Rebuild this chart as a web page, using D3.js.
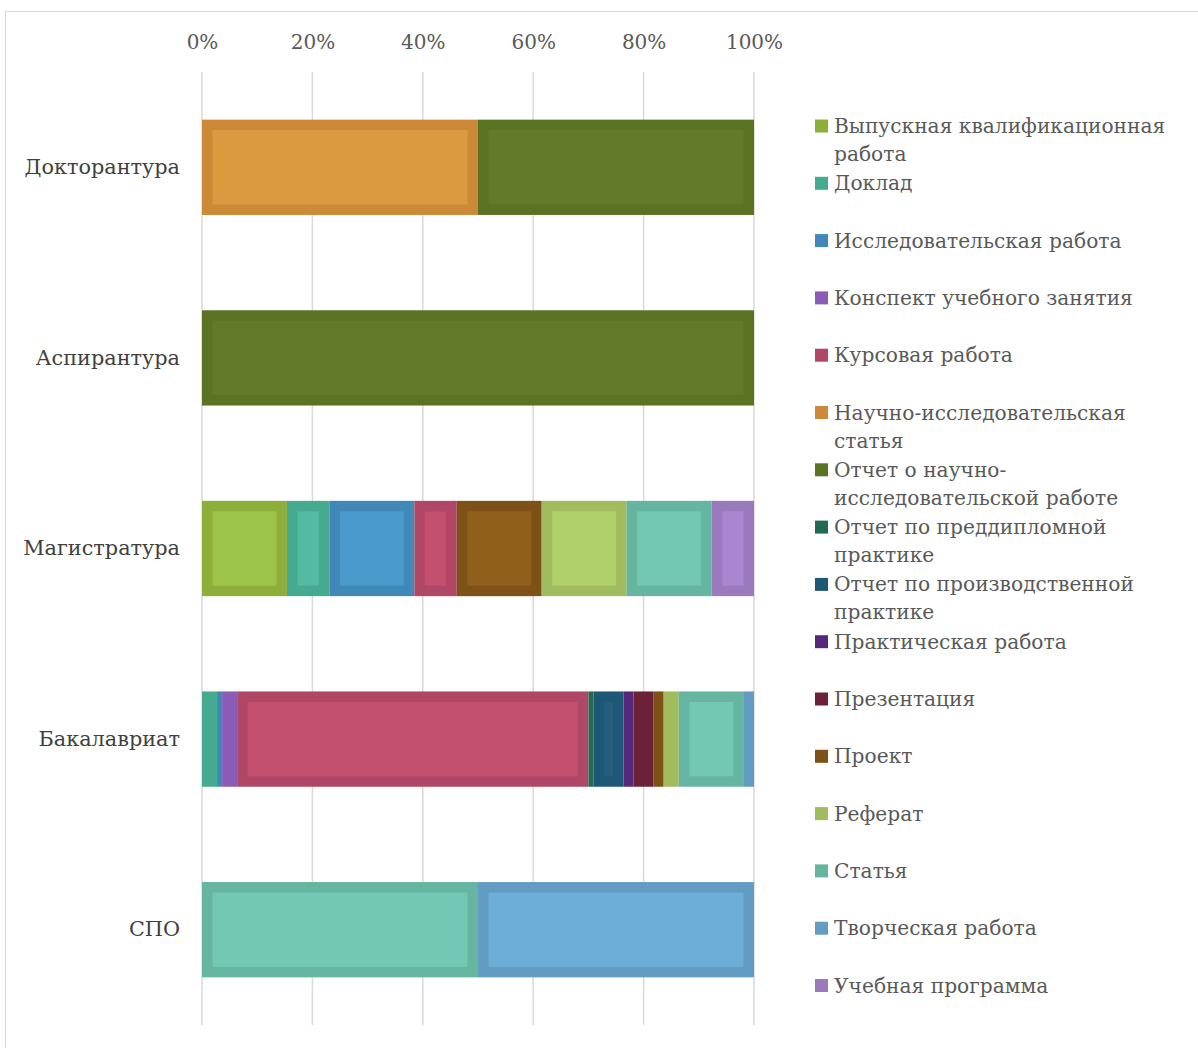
<!DOCTYPE html>
<html><head><meta charset="utf-8">
<script src="https://cdn.jsdelivr.net/npm/d3@7"></script>
<style>body{margin:0;background:#fff}</style>
</head><body><svg id="c" width="1198" height="1048"></svg>
<script>
const categories = ["Докторантура","Аспирантура","Магистратура","Бакалавриат","СПО"];
const seriesNames = [
 "Выпускная квалификационная работа","Доклад","Исследовательская работа","Конспект учебного занятия",
 "Курсовая работа","Научно-исследовательская статья","Отчет о научно-исследовательской работе",
 "Отчет по преддипломной практике","Отчет по производственной практике","Практическая работа",
 "Презентация","Проект","Реферат","Статья","Творческая работа","Учебная программа"];
// values per series, in category order
const vVKR   = [0,0,2,0,0];
const vDokl  = [0,0,1,3,0];
const vIssl  = [0,0,2,1,0];
const vKonsp = [0,0,0,3,0];
const vKurs  = [0,0,1,70,0];
const vNIS   = [1,0,0,0,0];
const vONIR  = [1,1,0,0,0];
const vPredd = [0,0,0,1,0];
const vProiz = [0,0,0,6,0];
const vPrakt = [0,0,0,2,0];
const vPrez  = [0,0,0,4,0];
const vProekt= [0,0,2,2,0];
const vRef   = [0,0,2,3,0];
const vStat  = [0,0,2,13,1];
const vTvor  = [0,0,0,2,1];
const vUch   = [0,0,1,0,0];
const seriesValues = [vVKR,vDokl,vIssl,vKonsp,vKurs,vNIS,vONIR,vPredd,vProiz,vPrakt,vPrez,vProekt,vRef,vStat,vTvor,vUch];
const tickLabels = ["0%","20%","40%","60%","80%","100%"];
const edgeColors = ["#8dae3b","#46aa91","#3f88b8","#8b5cb7","#b04766","#cc8a38","#5a7424","#236a52","#1f5777","#56287c","#6b2137","#7e5116","#a0bc5e","#66b5a0","#639cc2","#9b79bd"];
const fillColors = ["#9ec34a","#52bba1","#4a99cb","#9868c6","#c4506f","#dc9a3e","#627b2a","#28765b","#245f80","#5f2d88","#76263e","#8f5f1b","#b0d06c","#72c8b3","#6daed6","#aa86d0"];

const svg = d3.select("#c");
const font = "'DejaVu Serif', serif";
svg.append("rect").attr("x",5.5).attr("y",11.5).attr("width",1200).attr("height",1040)
  .attr("fill","#fff").attr("stroke","#d9d9d9").attr("stroke-width",1);

const x = d3.scaleLinear().domain([0,1]).range([202,754]);
const y = d3.scaleBand().domain(categories).range([72,1025]).paddingInner(0.5).paddingOuter(0.25);

// gridlines
svg.append("g").selectAll("line").data(d3.range(0,1.0001,0.2)).join("line")
  .attr("x1",d=>x(d)).attr("x2",d=>x(d)).attr("y1",72).attr("y2",1025)
  .attr("stroke","#d9d9d9").attr("stroke-width",1.5);

// tick labels via axis
const ax = svg.append("g").attr("transform","translate(0,52)")
  .call(d3.axisTop(x).tickValues(d3.range(0,1.0001,0.2)).tickFormat((d,i)=>tickLabels[i]).tickSize(0));
ax.select(".domain").remove();
ax.selectAll("text").attr("font-family",font).attr("font-size",20).attr("fill","#595959");

// category labels
const ay = svg.append("g").attr("transform","translate(190,0)").call(d3.axisLeft(y).tickSize(0));
ay.select(".domain").remove();
ay.selectAll("text").attr("font-family",font).attr("font-size",20.8).attr("fill","#404040").attr("dx",-7);

// stacked normalized
const totals = categories.map((c,ci)=>d3.sum(seriesValues,s=>s[ci]));
const inset = 10.5;
categories.forEach((c,ci)=>{
  let acc = 0;
  seriesValues.forEach((s,si)=>{
    const v = s[ci];
    if(!v) return;
    const x0 = x(acc/totals[ci]); acc += v; const x1 = x(acc/totals[ci]);
    const g = svg.append("g");
    g.append("rect").attr("x",x0).attr("y",y(c)).attr("width",x1-x0).attr("height",y.bandwidth())
      .attr("fill",edgeColors[si]);
    if(x1-x0 > 2*inset+2){
      g.append("rect").attr("x",x0+inset).attr("y",y(c)+inset).attr("width",x1-x0-2*inset).attr("height",y.bandwidth()-2*inset)
        .attr("fill",fillColors[si]);
    }
  });
});

// legend
const legendLines = [
 ["Выпускная квалификационная","работа"],["Доклад"],["Исследовательская работа"],["Конспект учебного занятия"],
 ["Курсовая работа"],["Научно-исследовательская","статья"],["Отчет о научно-","исследовательской работе"],
 ["Отчет по преддипломной","практике"],["Отчет по производственной","практике"],["Практическая работа"],
 ["Презентация"],["Проект"],["Реферат"],["Статья"],["Творческая работа"],["Учебная программа"]];
const lg = svg.append("g");
seriesNames.forEach((n,i)=>{
  const cy = 126 + i*57.3;
  lg.append("rect").attr("x",815).attr("y",cy-6.5).attr("width",13).attr("height",13).attr("fill",edgeColors[i]);
  const t = lg.append("text").attr("x",834).attr("y",cy+7).attr("font-family",font).attr("font-size",20.2).attr("fill","#595959");
  legendLines[i].forEach((ln,k)=>{
    t.append("tspan").attr("x",834).attr("dy",k?28:0).text(ln);
  });
});
</script></body></html>
